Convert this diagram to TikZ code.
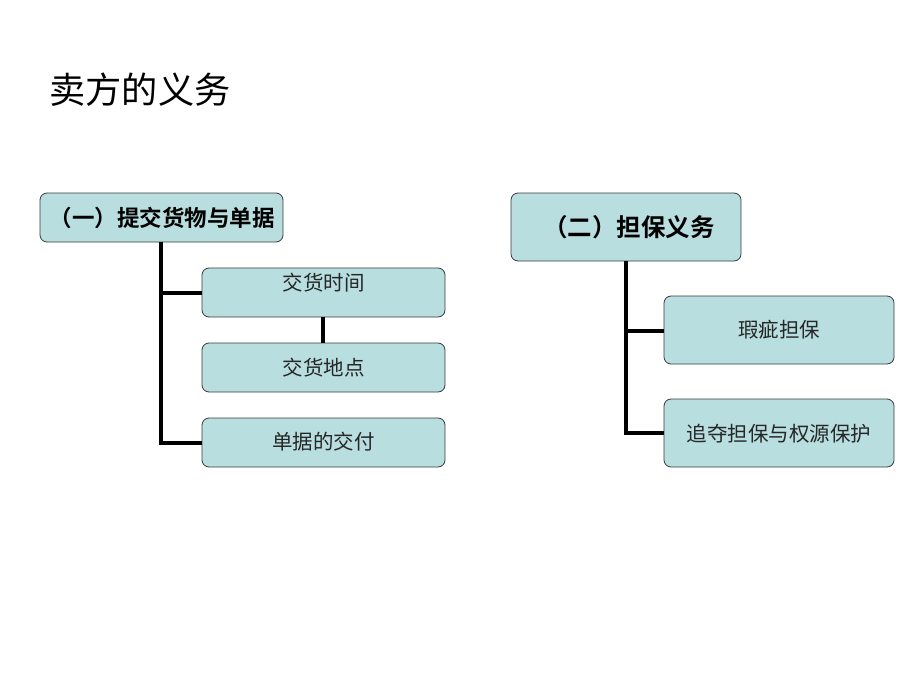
\documentclass[tikz,border=0pt]{standalone}
\usepackage{fontspec}
\setmainfont{Noto Sans CJK SC}
\newfontfamily\cjkb{Noto Sans CJK SC Bold}
\definecolor{boxfill}{HTML}{B8DEE0}
\definecolor{boxline}{HTML}{3A3A3A}
\begin{document}
\begin{tikzpicture}[x=1pt,y=-1pt,
  box/.style={draw=boxline,line width=0.8pt,fill=boxfill,rounded corners=7pt},
  conn/.style={line width=3.2pt,black},
  lab/.style={font=\fontsize{20.5}{20.5}\selectfont,text=black!85}]
\useasboundingbox (0,0) rectangle (920,690);
\node[anchor=west,font=\fontsize{36.2}{36.2}\selectfont] (title) at (46,90) {卖方的义务};
% left group
\draw[box] (40,193) rectangle (283,242);
\node[font=\cjkb\fontsize{22.5}{22.5}\selectfont] (a) at (162,217.5) {（一）提交货物与单据};
\coordinate (abot) at (161,242);
\draw[box] (202,268) rectangle (445,317);
\node[lab] (b1) at (323.5,283) {交货时间};
\draw[box] (202,343) rectangle (445,392);
\node[lab] (b2) at (323.5,368) {交货地点};
\draw[box] (202,418) rectangle (445,467);
\node[lab] (b3) at (323.5,442) {单据的交付};
\coordinate (j1) at (161,293);
\coordinate (j3) at (161,443);
\coordinate (e1) at (202,293);
\coordinate (e3) at (202,443);
\draw[conn] (abot) -- (j3) -- (e3);
\draw[conn] (j1) -- (e1);
\coordinate (b1b) at (323,317);
\coordinate (b2t) at (323,343);
\draw[conn] (b1b) -- (b2t);
% right group
\draw[box] (511,193) rectangle (741,261);
\node[font=\cjkb\fontsize{24.5}{24.5}\selectfont] (c) at (629,227) {（二）担保义务};
\coordinate (cbot) at (626,261);
\draw[box] (664,296) rectangle (894,364);
\node[lab] (d1) at (779,330) {瑕疵担保};
\draw[box] (664,399) rectangle (894,467);
\node[lab] (d2) at (779,434) {追夺担保与权源保护};
\coordinate (k1) at (626,331);
\coordinate (k2) at (626,433);
\coordinate (f1) at (664,331);
\coordinate (f2) at (664,433);
\draw[conn] (cbot) -- (k2) -- (f2);
\draw[conn] (k1) -- (f1);
\end{tikzpicture}
\end{document}
